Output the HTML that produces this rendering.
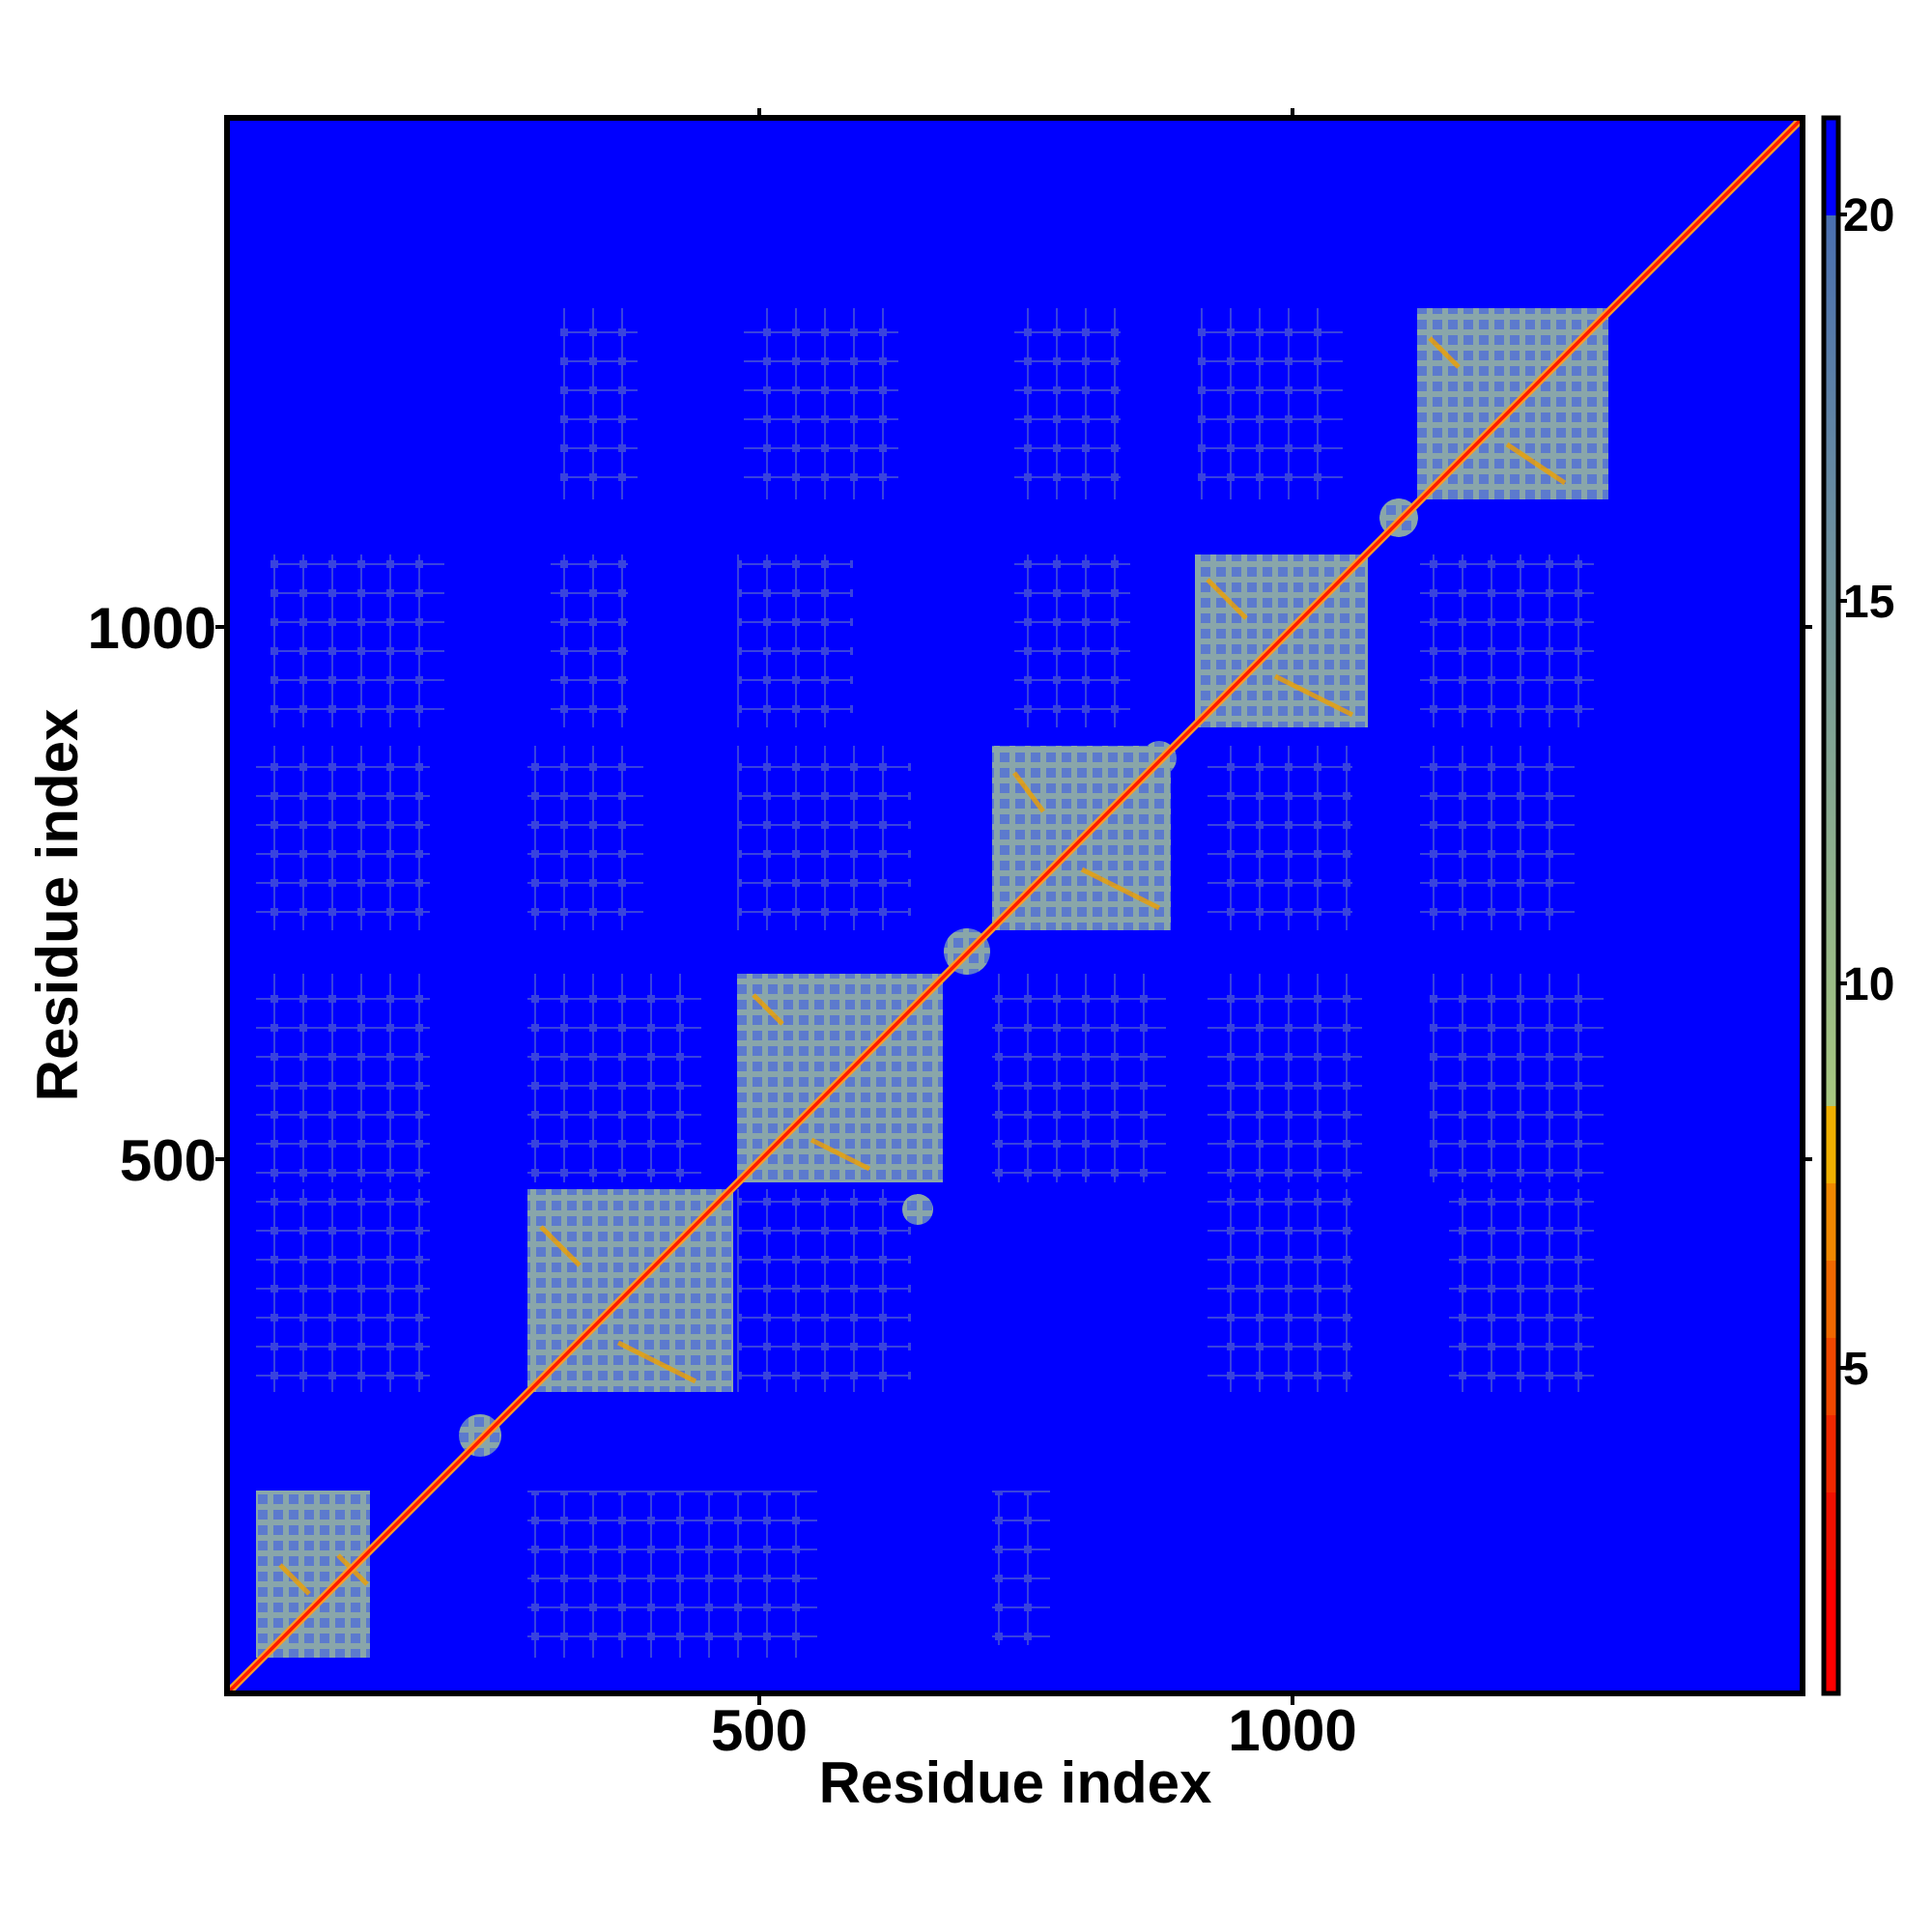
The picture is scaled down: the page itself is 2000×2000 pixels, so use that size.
<!DOCTYPE html>
<html><head><meta charset="utf-8"><style>html,body{margin:0;padding:0;background:#fff}svg{display:block}</style></head>
<body>
<svg width="2000" height="2000" viewBox="0 0 2000 2000" xmlns="http://www.w3.org/2000/svg" font-family="Liberation Sans, sans-serif" font-weight="bold">
<defs>
<pattern id="dense" width="16" height="16" patternUnits="userSpaceOnUse">
<rect width="16" height="16" fill="#6688c8"/>
<rect x="0" y="5" width="16" height="6" fill="#98b8a0"/>
<rect x="5" y="0" width="6" height="16" fill="#98b8a0"/>
</pattern>
<pattern id="sparse" width="30" height="30" patternUnits="userSpaceOnUse">
<rect x="0" y="13" width="30" height="2" fill="#8fa8b0"/>
<rect x="13" y="0" width="2" height="30" fill="#8fa8b0"/>
<rect x="10" y="10" width="8" height="8" fill="#8fa8b0"/>
</pattern>
</defs>
<rect x="235" y="122" width="1631" height="1631" fill="#0000ff"/>
<g>
<g opacity="0.4" fill="url(#sparse)">
<rect x="546" y="1543" width="300" height="173"/>
<rect x="1027" y="1543" width="60" height="160"/>
<rect x="763" y="1543" width="80" height="150"/>
<rect x="265" y="1231" width="180" height="210"/>
<rect x="763" y="1231" width="180" height="210"/>
<rect x="1250" y="1231" width="150" height="210"/>
<rect x="1500" y="1231" width="150" height="210"/>
<rect x="265" y="1008" width="180" height="216"/>
<rect x="546" y="1008" width="180" height="216"/>
<rect x="1027" y="1008" width="180" height="216"/>
<rect x="1250" y="1008" width="160" height="216"/>
<rect x="1480" y="1008" width="180" height="216"/>
<rect x="265" y="772" width="180" height="191"/>
<rect x="546" y="772" width="120" height="191"/>
<rect x="763" y="772" width="180" height="191"/>
<rect x="1250" y="772" width="150" height="191"/>
<rect x="1470" y="772" width="160" height="191"/>
<rect x="280" y="574" width="180" height="179"/>
<rect x="570" y="574" width="80" height="179"/>
<rect x="763" y="574" width="120" height="179"/>
<rect x="1050" y="574" width="120" height="179"/>
<rect x="1470" y="574" width="180" height="179"/>
<rect x="580" y="319" width="80" height="198"/>
<rect x="770" y="319" width="160" height="198"/>
<rect x="1050" y="319" width="110" height="198"/>
<rect x="1240" y="319" width="150" height="198"/>
</g>
<g opacity="0.9" fill="url(#dense)">
<rect x="265" y="1543" width="118" height="173"/>
<rect x="546" y="1231" width="213" height="210"/>
<rect x="763" y="1008" width="213" height="216"/>
<rect x="1027" y="772" width="185" height="191"/>
<rect x="1237" y="574" width="179" height="179"/>
<rect x="1467" y="319" width="198" height="198"/>
<circle cx="497" cy="1486" r="22"/>
<circle cx="1001" cy="985" r="24"/>
<circle cx="1448" cy="536" r="20"/>
<circle cx="1200" cy="785" r="18"/>
<circle cx="950" cy="1252" r="16"/>
</g>
<g stroke="#f0a000" stroke-width="5" opacity="0.8">
<line x1="290" y1="1620" x2="320" y2="1650"/><line x1="350" y1="1610" x2="380" y2="1640"/>
<line x1="560" y1="1270" x2="600" y2="1310"/><line x1="640" y1="1390" x2="720" y2="1430"/>
<line x1="780" y1="1030" x2="810" y2="1060"/><line x1="840" y1="1180" x2="900" y2="1210"/>
<line x1="1050" y1="800" x2="1080" y2="840"/><line x1="1120" y1="900" x2="1200" y2="940"/>
<line x1="1250" y1="600" x2="1290" y2="640"/><line x1="1320" y1="700" x2="1400" y2="740"/>
<line x1="1480" y1="350" x2="1510" y2="380"/><line x1="1560" y1="460" x2="1620" y2="500"/>
</g>
</g>
<line x1="237" y1="1751" x2="1864" y2="124" stroke="#ff9a20" stroke-width="8"/>
<line x1="237" y1="1751" x2="1864" y2="124" stroke="#ff1a00" stroke-width="3.5"/>
<rect x="235" y="122" width="1631" height="1631" fill="none" stroke="#000" stroke-width="6"/>
<g stroke="#000" stroke-width="4">
<line x1="786" y1="1753" x2="786" y2="1765"/><line x1="1338" y1="1753" x2="1338" y2="1765"/>
<line x1="786" y1="122" x2="786" y2="112"/><line x1="1338" y1="122" x2="1338" y2="112"/>
<line x1="235" y1="649" x2="223" y2="649"/><line x1="235" y1="1200" x2="223" y2="1200"/>
<line x1="1866" y1="649" x2="1876" y2="649"/><line x1="1866" y1="1200" x2="1876" y2="1200"/>
</g>
<g font-size="60" text-anchor="middle">
<text x="786" y="1812">500</text><text x="1338" y="1812">1000</text>
</g>
<g font-size="60" text-anchor="end">
<text x="224" y="671">1000</text><text x="224" y="1222">500</text>
</g>
<text x="1051" y="1866" font-size="60" text-anchor="middle">Residue index</text>
<text transform="translate(80,937) rotate(-90)" font-size="60" text-anchor="middle">Residue index</text>
<defs>
<linearGradient id="cbg" x1="0" y1="0" x2="0" y2="1">
<stop offset="0" stop-color="#4a6fb0"/><stop offset="1" stop-color="#a8c880"/>
</linearGradient>
</defs>
<rect x="1888" y="122" width="15" height="101" fill="#0000ff"/>
<rect x="1888" y="223" width="15" height="922" fill="url(#cbg)"/>
<rect x="1888" y="1145" width="15" height="80" fill="#f0b000"/>
<rect x="1888" y="1225" width="15" height="80" fill="#f08800"/>
<rect x="1888" y="1305" width="15" height="80" fill="#f06800"/>
<rect x="1888" y="1385" width="15" height="80" fill="#f04800"/>
<rect x="1888" y="1465" width="15" height="80" fill="#f02800"/>
<rect x="1888" y="1545" width="15" height="80" fill="#f01000"/>
<rect x="1888" y="1625" width="15" height="128" fill="#ff0000"/>
<rect x="1888" y="122" width="15" height="1631" fill="none" stroke="#000" stroke-width="5"/>
<g stroke="#000" stroke-width="4">
<line x1="1903" y1="222" x2="1912" y2="222"/><line x1="1903" y1="622" x2="1912" y2="622"/>
<line x1="1903" y1="1018" x2="1912" y2="1018"/><line x1="1903" y1="1416" x2="1912" y2="1416"/>
</g>
<g font-size="48">
<text x="1908" y="239">20</text><text x="1908" y="639">15</text>
<text x="1908" y="1035">10</text><text x="1908" y="1433">5</text>
</g>
</svg>
</body></html>
